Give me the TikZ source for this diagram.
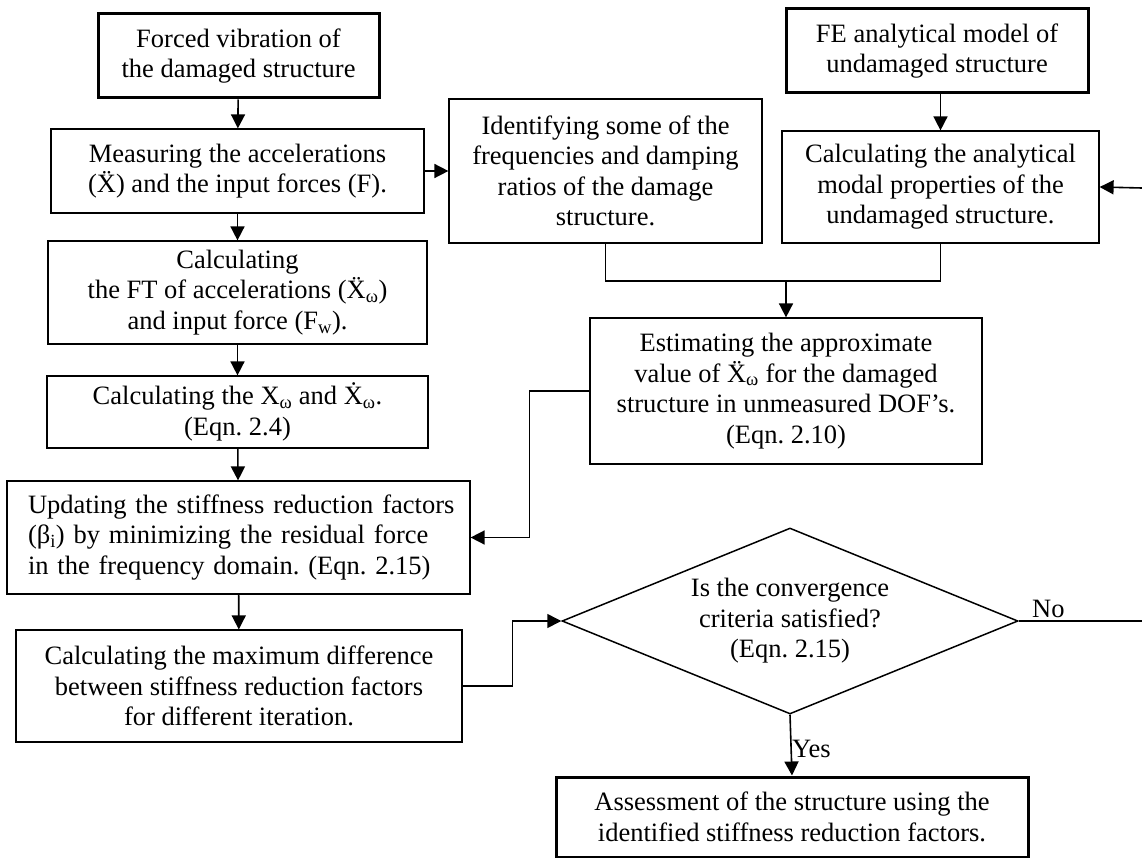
\documentclass[tikz,border=0pt]{standalone}
\usepackage{fontspec}
\setmainfont{Liberation Serif}
\usetikzlibrary{arrows.meta,shapes.geometric}
\frenchspacing
\begin{document}
\begin{tikzpicture}[x=1pt,y=-1pt,
  font=\fontsize{26.5}{30.5}\selectfont\frenchspacing,
  box/.style={draw, line width=1.2pt, align=center, inner sep=0pt},
  tbox/.style={box, line width=3pt},
  arr/.style={line width=1.6pt, -{Triangle[length=14pt,width=14pt]}},
  ln/.style={line width=1.6pt}]
\useasboundingbox (0,0) rectangle (1142,858);
% left column
\node[tbox, minimum width=281pt, minimum height=84pt] (forced) at (238.5,56) {Forced vibration of\\the damaged structure};
\node[box, minimum width=373pt, minimum height=84pt] (meas) at (237.5,171) {Measuring the accelerations\\(\"X) and the input forces (F).};
\node[box, minimum width=379pt, minimum height=103pt] (ft) at (237.5,292.5) {Calculating\\the FT of accelerations (\"X\textsubscript{ω})\\and input force (F\textsubscript{w}).};
\node[box, minimum width=381pt, minimum height=72pt] (xw) at (237.5,412) {Calculating the X\textsubscript{ω} and \.X\textsubscript{ω}.\\(Eqn. 2.4)};
\node[box, minimum width=463pt, minimum height=113pt, text width=421pt, align=left] (upd) at (238.5,537.5)
  {\makebox[\linewidth][s]{Updating the stiffness reduction factors}\\
   \makebox[\linewidth][s]{(β\textsubscript{i}) by minimizing the residual force}\\
   \makebox[\linewidth][l]{in the frequency domain. (Eqn. 2.15)}};
\node[box, minimum width=446pt, minimum height=112pt] (maxd) at (239,686) {Calculating the maximum difference\\between stiffness reduction factors\\for different iteration.};
% upper middle / right
\node[box, minimum width=313pt, minimum height=144pt] (ident) at (605.5,171) {Identifying some of the\\frequencies and damping\\ratios of the damage\\structure.};
\node[tbox, minimum width=302pt, minimum height=84pt] (fe) at (937,51) {FE analytical model of\\undamaged structure};
\node[box, minimum width=317pt, minimum height=112pt] (calc) at (940.5,187) {Calculating the analytical\\modal properties of the\\undamaged structure.};
\node[box, minimum width=392pt, minimum height=146pt] (est) at (786,391) {Estimating the approximate\\value of \"X\textsubscript{ω} for the damaged\\structure in unmeasured DOF’s.\\(Eqn. 2.10)};
% decision
\node[draw, shape=diamond, shape aspect=2.45, minimum width=456pt, minimum height=186pt, inner sep=0pt, line width=1.5pt, align=center] (dia) at (790,621) {Is the convergence\\criteria satisfied?\\(Eqn. 2.15)};
\node[tbox, minimum width=472pt, minimum height=80pt] (assess) at (792,817) {Assessment of the structure using the\\identified stiffness reduction factors.};
\node[anchor=base west, inner sep=0pt] (yes) at (792,757) {Yes};
\node[anchor=base west, inner sep=0pt] (no) at (1032,617) {No};
\coordinate (merge) at (786,281);
\coordinate (noend) at (1142,621);
\coordinate (backin) at (1142,188);
% connectors
\draw[arr] (forced) -- (meas);
\draw[arr] (meas) -- (ft);
\draw[arr] (ft) -- (xw);
\draw[arr] (xw) -- (upd);
\draw[arr] (upd) -- (maxd);
\draw[arr] (meas.east) -- (ident.west);
\draw[arr] (fe.south -| calc.north) -- (calc.north);
\draw[ln] (ident.south) |- (merge);
\draw[ln] (calc.south) |- (merge);
\draw[arr] (merge) -- (est.north);
\draw[arr] (est.west) -- ++(-60,0) |- (upd.east);
\draw[arr] (maxd.east) -- ++(50,0) |- (dia.west);
\draw[arr] (dia.south) -- (assess.north);
\draw[ln] (dia.east) -- (noend);
\draw[arr] (backin) -- (calc.east);
\end{tikzpicture}
\end{document}
